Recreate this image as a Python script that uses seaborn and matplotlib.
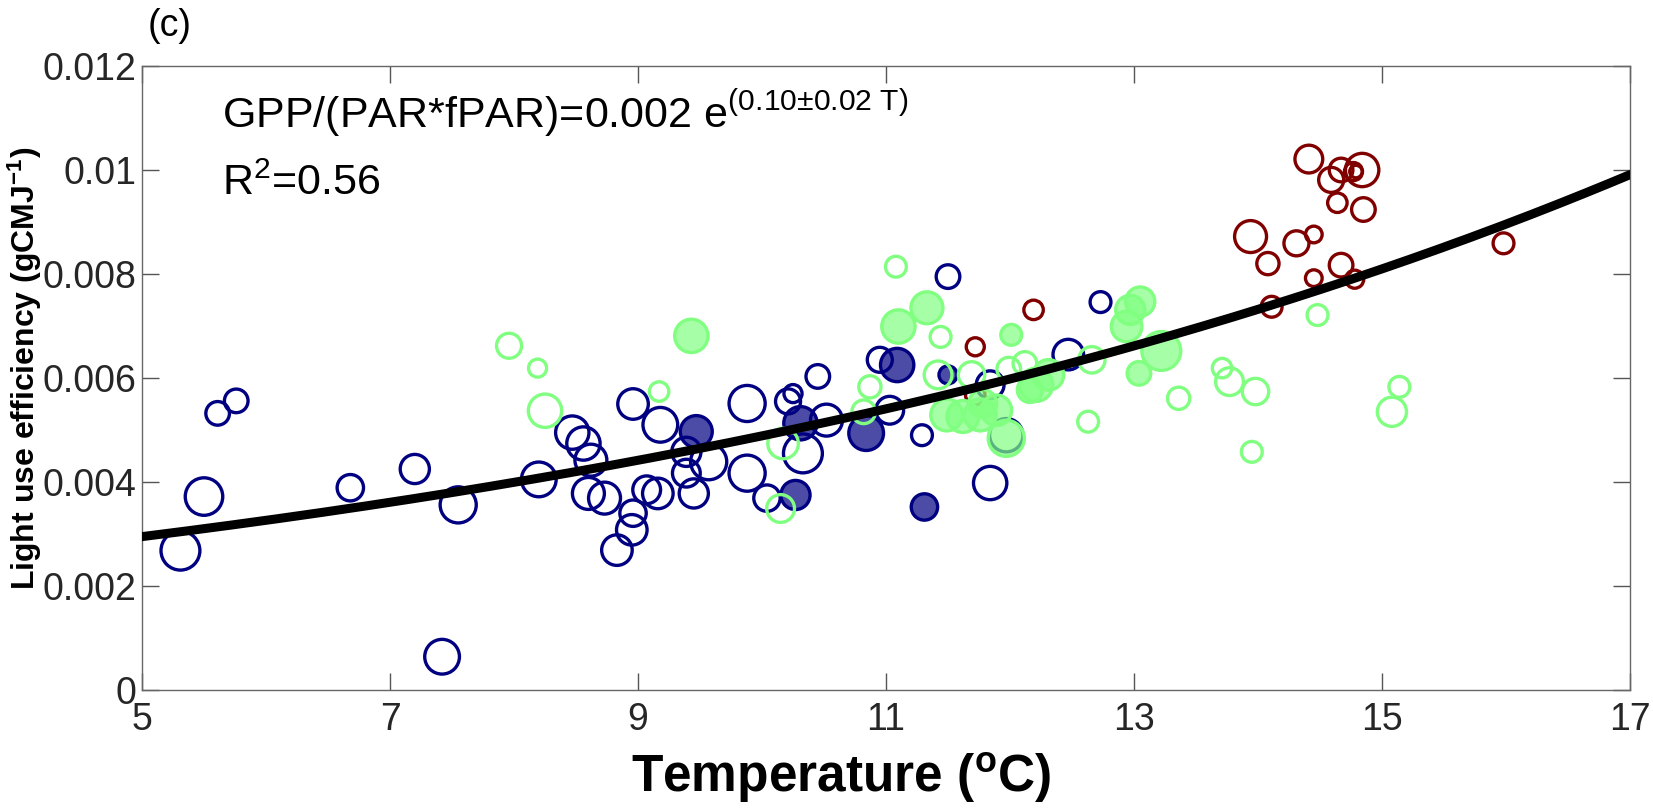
import numpy as np
import pandas as pd
import matplotlib
matplotlib.use("Agg")
import matplotlib.pyplot as plt
import seaborn as sns

# ---- data: (temperature degC, LUE gC/MJ, marker diameter pt)
navy_open_T = [5.31, 5.50, 5.61, 5.76, 6.68, 7.20, 7.55, 7.42, 8.20, 8.47, 8.56, 8.62, 8.60, 8.73,
               8.83, 8.95, 8.96, 8.96, 9.18, 9.16, 9.07, 9.39, 9.39, 9.45, 9.57, 9.88, 9.88, 10.04,
               10.21, 10.25, 10.33, 10.52, 10.45, 10.95, 11.03, 11.29, 11.50, 12.73, 12.47, 11.84,
               11.84, 11.97]
navy_open_lue = [0.00268, 0.00372, 0.00532, 0.00556, 0.00389, 0.00425, 0.00356, 0.00064, 0.00405,
                 0.00495, 0.00474, 0.00442, 0.00378, 0.00369, 0.00269, 0.00308, 0.00340, 0.00550,
                 0.00510, 0.00378, 0.00385, 0.00458, 0.00417, 0.00378, 0.00439, 0.00551, 0.00417,
                 0.00369, 0.00555, 0.00570, 0.00455, 0.00519, 0.00603, 0.00635, 0.00538, 0.00490,
                 0.00795, 0.00746, 0.00645, 0.00398, 0.00587, 0.00490]
navy_open_ms = [28, 27, 17, 17, 19, 21, 26, 25, 25, 24, 24, 23, 23, 23, 22, 22, 19, 22, 25, 22, 20,
                21, 20, 21, 26, 26, 26, 19, 18, 13, 28, 23, 17, 18, 20, 15, 17, 15, 22, 24, 20, 24]

navy_fill_T = [9.47, 10.31, 10.27, 10.84, 11.09, 11.31, 11.50]
navy_fill_lue = [0.00497, 0.00513, 0.00375, 0.00494, 0.00625, 0.00352, 0.00606]
navy_fill_ms = [23, 24, 21, 25, 24, 19, 13]

green_open_T = [7.96, 8.19, 8.25, 9.17, 10.15, 10.17, 10.82, 10.87, 11.08, 11.44, 11.42, 11.69,
                11.99, 12.12, 12.66, 12.63, 13.36, 13.71, 13.77, 13.98, 13.95, 14.48, 15.14, 15.08]
green_open_lue = [0.00662, 0.00619, 0.00537, 0.00574, 0.00349, 0.00474, 0.00535, 0.00583, 0.00814,
                  0.00679, 0.00606, 0.00606, 0.00617, 0.00628, 0.00635, 0.00516, 0.00561, 0.00619,
                  0.00593, 0.00574, 0.00458, 0.00721, 0.00583, 0.00535]
green_open_ms = [18, 13, 24, 14, 20, 22, 17, 16, 15, 15, 20, 19, 17, 17, 19, 15, 16, 14, 20, 19,
                 15, 15, 15, 21]

green_fill_T = [9.43, 11.10, 11.33, 12.01, 12.97, 13.05, 12.94, 13.22, 13.04, 12.21, 12.31, 12.16,
                11.49, 11.62, 11.76, 11.89, 11.97, 11.78]
green_fill_lue = [0.00681, 0.00699, 0.00735, 0.00683, 0.00731, 0.00747, 0.00699, 0.00652, 0.00609,
                  0.00587, 0.00606, 0.00577, 0.00529, 0.00526, 0.00529, 0.00538, 0.00484, 0.00551]
green_fill_ms = [24, 24, 23, 15, 21, 21, 22, 28, 17, 24, 22, 18, 23, 23, 23, 22, 26, 20]

red_open_T = [11.72, 12.19, 11.72, 13.94, 14.08, 14.31, 14.11, 14.41, 14.59, 14.67, 14.77, 14.84,
              14.79, 14.64, 14.85, 14.45, 14.67, 14.45, 14.78, 15.98]
red_open_lue = [0.00660, 0.00731, 0.00567, 0.00872, 0.00820, 0.00859, 0.00737, 0.01021, 0.00981,
                0.01000, 0.00997, 0.01000, 0.00997, 0.00937, 0.00924, 0.00876, 0.00817, 0.00792,
                0.00790, 0.00859]
red_open_ms = [13, 14, 14, 23, 16, 18, 15, 20, 18, 17, 13, 24, 9, 14, 17, 12, 17, 12, 13, 15]

# exponential fit drawn in the figure
fit_a = 0.00178
fit_b = 0.101

x_ticks = [5, 7, 9, 11, 13, 15, 17]
y_ticks = [0, 0.002, 0.004, 0.006, 0.008, 0.01, 0.012]
y_ticklabels = ['0', '0.002', '0.004', '0.006', '0.008', '0.01', '0.012']

colors = {'navy': '#000080', 'green': '#80ff80', 'red': '#800000'}

groups = [
    ('navy', False, navy_open_T, navy_open_lue, navy_open_ms),
    ('navy', True, navy_fill_T, navy_fill_lue, navy_fill_ms),
    ('red', False, red_open_T, red_open_lue, red_open_ms),
    ('green', False, green_open_T, green_open_lue, green_open_ms),
    ('green', True, green_fill_T, green_fill_lue, green_fill_ms),
]
rows = []
for g, filled, T, L, M in groups:
    for t, l, m in zip(T, L, M):
        rows.append([g, filled, t, l, m])
df = pd.DataFrame(rows, columns=['group', 'filled', 'T', 'LUE', 'ms'])

sns.set_theme(style="white")
plt.rcParams['font.family'] = ['Liberation Sans', 'DejaVu Sans']
plt.rcParams['mathtext.fontset'] = 'custom'
plt.rcParams['mathtext.rm'] = 'Liberation Sans'
plt.rcParams['mathtext.it'] = 'Liberation Sans:italic'
plt.rcParams['mathtext.bf'] = 'Liberation Sans:bold'

fig = plt.figure(figsize=(16.53, 8.11), dpi=100)
fig.patch.set_facecolor('white')
ax = fig.add_axes([142 / 1653, 1 - 690 / 811, 1488 / 1653, 624 / 811])

for g, filled, _, _, _ in groups:
    sub = df[(df['group'] == g) & (df['filled'] == filled)]
    c = colors[g]
    face = matplotlib.colors.to_rgba(c, 0.7) if filled else 'none'
    sns.scatterplot(data=sub, x='T', y='LUE', ax=ax, color=c, facecolor=face, edgecolor=c,
                    s=sub['ms'].to_numpy() ** 2, linewidth=2.4, legend=False, zorder=3)

t_fit = np.linspace(5, 17, 300)
sns.lineplot(x=t_fit, y=fit_a * np.exp(fit_b * t_fit), ax=ax, color='black', linewidth=6.5, zorder=5)

ax.set_xlim(5, 17)
ax.set_ylim(0, 0.012)
ax.set_xticks(x_ticks)
ax.set_xticklabels([str(t) for t in x_ticks])
ax.set_yticks(y_ticks)
ax.set_yticklabels(y_ticklabels)
ax.tick_params(axis='both', direction='in', length=12, width=1, color='#555555',
               labelsize=27, labelcolor='#262626', top=True, right=True, bottom=True, left=True)
ax.tick_params(axis='x', pad=9)
ax.tick_params(axis='y', pad=4)
for sp in ax.spines.values():
    sp.set_color('#666666')
    sp.set_linewidth(1)

ax.set_xlabel(r'Temperature ($^{\mathbf{o}}$C)', fontsize=37, fontweight='bold', color='black')
ax.xaxis.set_label_coords(0.47, -0.097)
ax.set_ylabel(r'Light use efficiency (gCMJ$^{\mathbf{-1}}$)', fontsize=23, fontweight='bold', color='black')
ax.yaxis.set_label_coords(-0.066, 0.515)

ax.text(222 / 1653, 1 - 128 / 811, r'GPP/(PAR*fPAR)=0.002 e$^{\mathrm{(0.10±0.02\ T)}}$',
        transform=fig.transFigure, fontsize=31, color='black', va='baseline')
ax.text(222 / 1653, 1 - 195 / 811, r'R$^2$=0.56',
        transform=fig.transFigure, fontsize=31, color='black', va='baseline')
fig.text(148 / 1653, 1 - 44 / 811, '(c)', fontsize=27, color='black', va='bottom')

fig.savefig('out.png', dpi=100, facecolor='white')
